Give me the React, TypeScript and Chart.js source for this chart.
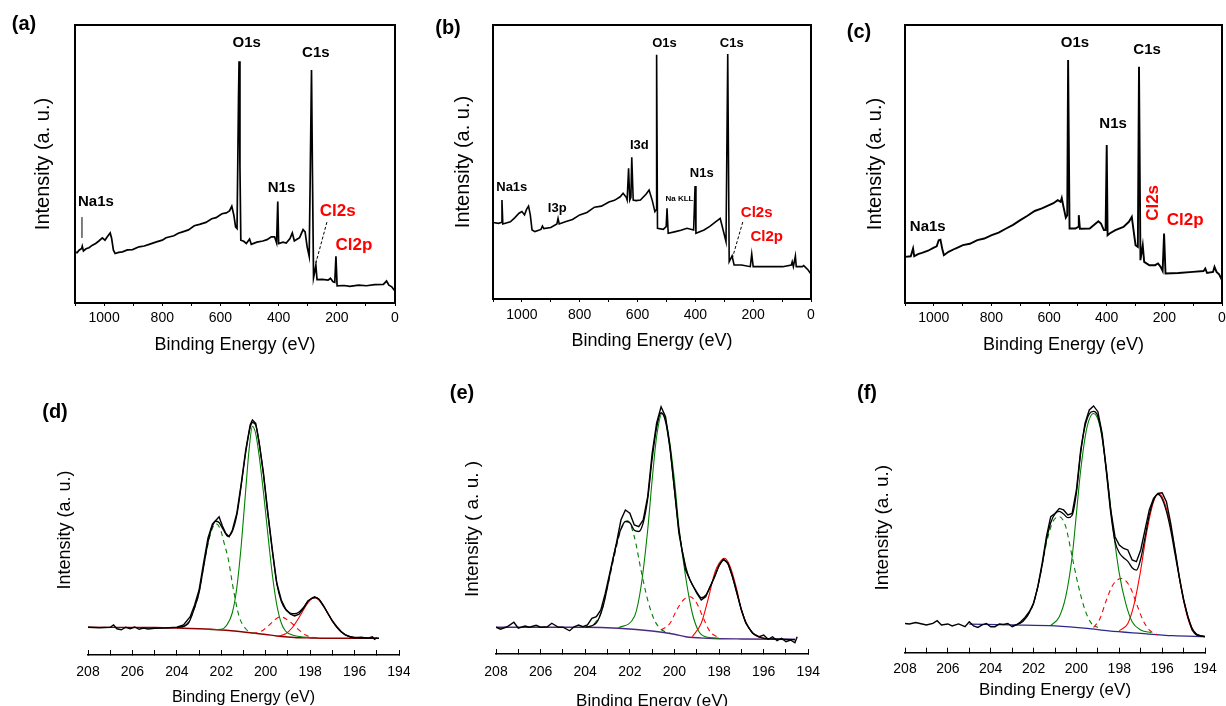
import React, { useEffect, useRef } from "react";
import { Chart, registerables } from "chart.js";
Chart.register(...registerables);

type P = [number, number][];
const FONT = '"Liberation Sans", Arial, Helvetica, sans-serif';

// ---------------- survey spectra: [binding energy (eV), intensity (a.u.)]
const surveyA: P = [
  [1100, 18.4], [1093, 18.1], [1086, 19.0], [1077, 19.6], [1075, 20.4], [1071, 18.7], [1062, 19.5], [1052, 19.9],
  [1040, 20.8], [1029, 21.4], [1018, 22.3], [1006, 23.4], [997, 22.6], [989, 23.8], [979, 25.2], [974, 23.2],
  [968, 19.0], [962, 17.8], [950, 18.2], [937, 18.4], [920, 19.1], [902, 19.2], [880, 20.2], [862, 20.5],
  [845, 21.1], [820, 22.0], [800, 22.6], [787, 23.5], [760, 24.2], [745, 25.1], [730, 25.6], [710, 26.3],
  [690, 27.8], [672, 28.3], [650, 29.0], [630, 30.3], [615, 30.7], [595, 32.1], [580, 32.4], [569, 33.1],
  [561, 34.8], [554, 31.6], [548, 27.4], [543, 26.8], [538, 73], [536, 87], [533, 49], [530, 22.6],
  [520, 22.2], [511, 21.4], [500, 23], [494, 21.1], [475, 21.9], [454, 22.3], [440, 22.8], [425, 23.8],
  [414, 23.8], [407, 21.6], [403, 36.5], [400, 21.4], [385, 21.9], [374, 21.6], [361, 23.2], [353, 25.2],
  [346, 22.3], [337, 22.9], [328, 23.5], [316, 26.4], [309, 25.6], [302, 20.2], [295, 16.8], [291, 49],
  [287, 83.8], [284, 49], [280, 9.1], [276, 11.2], [272, 13.6], [268, 8.4], [250, 8.5], [230, 8.2],
  [222, 8.9], [213, 7.6], [207, 7.4], [203, 16.8], [199, 6.2], [175, 6.3], [155, 6.0], [125, 6.4],
  [98, 6.2], [70, 6.6], [40, 6.7], [29, 7.9], [21, 6.4], [11, 5.8], [0, 4.3],
];
const surveyB: P = [
  [1100, 27.9], [1081, 27.6], [1072, 27.9], [1069, 36.1], [1066, 27.4], [1040, 28.2], [1025, 29.6], [1010, 31.3],
  [1000, 31.9], [991, 30.7], [984, 32.7], [977, 33.9], [971, 30.7], [965, 25.2], [955, 24.6],
  [934, 25.4], [929, 26.6], [924, 25.7], [900, 26.1], [879, 27.4], [875, 29.4], [871, 27.4], [850, 28.2],
  [825, 29.0], [800, 30.7], [775, 31.6], [749, 33.5], [725, 33.9], [699, 35.4], [680, 36.0], [660, 37.3],
  [650, 38.6], [639, 37.1], [636, 36.1],
  [631, 47.7], [627, 36.1], [623, 37.1], [620, 51.7], [615, 36.1], [605, 35.9], [590, 36.1],
  [570, 38.3], [560, 39.8], [549, 35.9], [540, 31.9], [536, 32.5], [534, 89.1], [531, 25.8],
  [511, 25.4], [501, 26.4], [498, 33.1], [494, 24], [469, 24.6], [450, 25.1], [429, 25.8], [406, 25.2],
  [401, 41.2], [398, 24], [370, 25.2], [350, 26.5], [329, 28.2], [314, 29.4], [304, 25.2], [294, 20.9],
  [288, 89.4], [283, 13.6], [273, 15.7], [266, 12.4], [240, 12.4], [210, 11.8], [205, 16.4],
  [200, 11.8], [150, 11.8], [98, 11.8], [68, 12.4], [65, 13.6], [61, 11.8], [54, 15.7],
  [51, 11.8], [30, 11.8], [25, 12.2], [10, 10.6], [0, 9.1],
];
const surveyC: P = [
  [1100, 16.6], [1080, 16.8], [1072, 19.6], [1068, 16.8], [1055, 17.6], [1041, 18], [1020, 18.8], [1000, 19.9],
  [990, 20.4], [983, 22.6], [977, 22.8], [971, 19.6], [965, 17.2], [949, 18.4], [925, 19.6], [899, 20.8],
  [875, 21.3], [849, 22.6], [825, 23.2], [799, 24.4], [775, 25.3], [749, 26.8], [725, 28.1], [700, 29.8],
  [675, 31.4], [650, 33.1], [625, 34.0], [600, 35.2], [585, 35.9], [570, 37], [560, 36.4],
  [556, 37.8], [550, 34.6], [542, 30.7], [537, 31.6], [534, 87.4], [529, 26.8], [509, 26.8],
  [499, 27.4], [497, 31.6], [493, 26.7], [459, 26.8], [429, 29.4], [420, 28.6], [410, 26.2],
  [404, 26.2], [400, 56.8], [397, 24.4], [390, 25], [370, 26.2], [342, 27.4], [323, 29.2],
  [313, 31], [307, 26.2], [300, 20.8], [292, 20.2], [288, 85], [283, 15.4], [275, 20.8],
  [270, 14.8], [252, 13.6], [232, 13.6], [222, 14.2], [213, 13], [206, 11.5], [201, 25],
  [196, 10.6], [151, 10.8], [101, 11.2], [64, 11.5], [58, 12.4], [52, 10.8], [31, 11.2],
  [26, 13], [19, 11.2], [10, 10.3], [0, 8.2],
];

// ---------------- Cl 2p high resolution: raw, envelope, background and fitted components
const rawD: P = [
  [208, 11.1], [207.5, 10.9], [207, 11.1], [206.85, 12], [206.7, 10.5], [206.5, 10.1], [206.3, 11.1],
  [206.1, 10.5], [205.9, 11.2], [205.7, 10.3], [205.5, 10.8], [205.3, 10.4], [205, 10.7], [204.5, 10.8],
  [204, 11.1], [203.7, 12], [203.4, 15.3], [203.2, 20], [203, 26], [202.8, 36.7], [202.6, 46.7],
  [202.4, 52.4], [202.2, 54.3], [202.1, 55.3], [201.95, 51.6], [201.8, 48.7], [201.65, 47.3], [201.5, 50],
  [201.3, 56.7], [201.1, 68.7], [200.9, 82], [200.7, 92], [200.6, 94], [200.45, 92.7], [200.3, 85.3],
  [200.1, 72.7], [199.9, 56.7], [199.7, 42], [199.5, 28.7], [199.3, 22], [199.1, 18.3], [198.9, 16.4],
  [198.7, 15.6], [198.5, 16.3], [198.3, 18.7], [198.1, 21.6], [197.9, 22.9], [197.8, 23.3], [197.6, 22.3],
  [197.4, 19.6], [197.2, 16.7], [197, 13.7], [196.8, 11.3], [196.6, 9.3], [196.4, 8], [196.2, 7.3],
  [196, 6.9], [195.7, 7.1], [195.4, 6.7], [195.2, 7.3], [195.1, 6.3], [195, 6.8], [194.9, 6.7],
];
const envD: P = [
  [204, 10.9], [203.5, 12.5], [203.2, 19], [203, 25], [202.8, 35], [202.6, 45], [202.4, 51.5],
  [202.25, 53.5], [202.1, 53], [201.9, 50], [201.7, 47.5], [201.5, 49.5], [201.3, 56], [201.1, 68],
  [200.9, 81], [200.7, 91], [200.6, 93], [200.45, 92], [200.3, 85], [200.1, 72], [199.9, 56],
  [199.7, 41.5], [199.5, 28.5], [199.3, 21.5], [199.1, 18.2], [198.9, 16.8], [198.7, 16.5], [198.5, 17.2],
  [198.3, 19], [198.1, 21.5], [197.9, 22.7], [197.75, 23], [197.6, 22.2], [197.4, 19.8], [197.2, 16.6],
  [197, 13.6], [196.8, 11.2], [196.6, 9.3], [196.4, 8], [196.2, 7.3], [196, 7], [195.5, 6.8], [195, 6.7],
];
const bgD: P = [
  [208, 11.1], [205, 11.0], [204, 10.8], [203, 10.5], [202, 10.0], [201, 9.2], [200, 8.2],
  [199.5, 7.6], [199, 7.2], [198.5, 6.9], [198, 6.8], [197, 6.7], [195, 6.7],
];
const g1D: P = [
  [202.5, 10.1], [202, 10.3], [201.75, 12], [201.5, 17], [201.3, 27], [201.1, 44], [200.9, 66],
  [200.75, 82], [200.6, 91.5], [200.45, 88.5], [200.3, 80], [200.1, 65], [199.9, 48], [199.7, 32],
  [199.5, 20], [199.3, 12.8], [199.1, 9.5], [198.8, 8], [198.3, 7.2], [197.8, 6.9],
];
const g2D: P = [
  [204, 11], [203.6, 12], [203.3, 16.5], [203, 25], [202.7, 40], [202.45, 49.5], [202.25, 52.5],
  [202.05, 50.5], [201.85, 44], [201.7, 39], [201.45, 26], [201.2, 15.5], [200.9, 10.5], [200.6, 8.8],
  [200.2, 8.5],
];
const r1D: P = [
  [199.5, 7.4], [199.1, 8.5], [198.8, 11], [198.5, 15], [198.2, 19.5], [198, 22], [197.8, 22.9],
  [197.6, 22], [197.4, 19.5], [197.2, 16.5], [197, 13.5], [196.8, 11], [196.6, 9.2], [196.4, 7.9],
  [196.1, 7.1], [195.8, 6.8],
];
const r2D: P = [
  [200.6, 8.7], [200.2, 9.5], [199.9, 11.5], [199.6, 14], [199.35, 15.3], [199.1, 14.5], [198.8, 12.5],
  [198.5, 10], [198.2, 8], [197.9, 7.1], [197.5, 6.8],
];

const rawE: P = [
  [208, 10.7], [207.8, 9.9], [207.5, 10.9], [207.2, 12.7], [207, 10.3], [206.7, 11.2], [206.5, 10.7],
  [206.2, 11.5], [206, 10.7], [205.7, 10.9], [205.5, 12.3], [205.2, 10.7], [205, 10.7], [204.7, 9.3],
  [204.5, 10.9], [204.3, 11.6], [204.1, 10.9], [203.9, 11.6], [203.7, 14.3], [203.5, 14.9], [203.3, 17.6],
  [203.1, 24.3], [202.9, 32.3], [202.6, 44.3], [202.4, 53.6], [202.2, 57.6], [202, 56.3], [201.8, 51.6],
  [201.6, 50.9], [201.4, 53.6], [201.2, 62.9], [201, 80.3], [200.8, 92.3], [200.6, 98.9], [200.4, 94.9],
  [200.2, 82.9], [200, 65.6], [199.8, 48.3], [199.5, 33.6], [199.3, 29.6], [199, 24.3], [198.8, 21.6],
  [198.6, 22.9], [198.4, 26.9], [198.2, 30.9], [198, 35.6], [197.8, 38], [197.6, 36.3], [197.4, 30.9],
  [197.2, 24.3], [197, 17.6], [196.8, 12.3], [196.5, 8.3], [196.2, 6.9], [196, 7.6], [195.8, 5.9],
  [195.6, 6.9], [195.4, 5.3], [195.2, 6.3], [195, 4.9], [194.8, 5.6], [194.6, 4.5], [194.5, 6.9],
];
const envE: P = [
  [204, 10.7], [203.5, 12.5], [203.2, 19], [203, 27], [202.8, 36], [202.6, 44], [202.4, 50],
  [202.2, 53], [202, 52.5], [201.8, 49.5], [201.6, 49], [201.4, 52.5], [201.2, 62], [201, 78],
  [200.8, 90.5], [200.6, 96.5], [200.4, 93], [200.2, 82], [200, 66], [199.8, 49.5], [199.5, 35],
  [199.3, 29.5], [199, 24.8], [198.8, 22.5], [198.6, 23.5], [198.4, 27], [198.2, 31], [198, 35.2],
  [197.8, 37.6], [197.6, 36], [197.4, 31], [197.2, 24.5], [197, 17.8], [196.8, 12.6], [196.5, 8.5],
  [196.2, 6.8], [196, 6.3], [195.5, 6], [195, 5.8], [194.6, 5.7],
];
const bgE: P = [
  [208, 10.7], [204, 10.7], [202.5, 10.3], [201, 9.2], [200, 7.9], [199.5, 6.9], [198.5, 6.3],
  [197, 6], [195, 5.9], [194.6, 5.9],
];
const g1E: P = [
  [202.5, 10.5], [201.8, 14.9], [201.5, 26.9], [201.2, 49.6], [201, 69.6], [200.8, 86.9], [200.55, 96.3],
  [200.3, 89.6], [200, 69.6], [199.8, 50.9], [199.5, 30.9], [199.2, 16.3], [198.9, 8.9], [198.5, 6.7],
  [198, 6.3],
];
const g2E: P = [
  [203.6, 12], [203.3, 16.3], [203, 26.9], [202.7, 38.9], [202.4, 49.6], [202.1, 53.3], [201.8, 46.9],
  [201.5, 33.6], [201.2, 21.6], [200.9, 13.6], [200.6, 9.9], [200.2, 8.3],
];
const r1E: P = [
  [199.2, 6.9], [198.8, 12.3], [198.5, 21.6], [198.2, 32.3], [198, 36.3], [197.75, 38.3], [197.5, 34.9],
  [197.2, 25.6], [197, 17.6], [196.7, 10.9], [196.4, 7.6], [196, 6.3],
];
const r2E: P = [
  [200.6, 9.6], [200.2, 12.3], [199.9, 17.6], [199.6, 21.6], [199.3, 22.9], [199, 20.3], [198.7, 14.3],
  [198.4, 8.9], [198, 6.5],
];

const rawF: P = [
  [208, 11.7], [207.8, 11.5], [207.5, 12.1], [207.2, 11.5], [207, 11.1], [206.7, 11.7], [206.5, 12.8],
  [206.3, 11.1], [206, 11.5], [205.8, 10.7], [205.5, 11.5], [205.2, 10.4], [205, 12.4], [204.8, 10.7],
  [204.6, 10.1], [204.4, 11.1], [204.2, 11.7], [204, 10.4], [203.8, 10.4], [203.6, 11.5], [203.4, 11.3],
  [203.2, 11.7], [203, 10.4], [202.8, 11.1], [202.6, 12.4], [202.4, 14.1], [202.2, 16.4], [202, 19.7],
  [201.8, 26.4], [201.6, 35.7], [201.4, 46.4], [201.2, 54.4], [201, 55.7], [200.8, 57.7], [200.6, 57.1],
  [200.4, 55.1], [200.2, 55.7], [200, 65.1], [199.8, 81.1], [199.6, 91.7], [199.4, 97.1], [199.2, 98.7],
  [199, 96.4], [198.8, 87.7], [198.6, 73.1], [198.4, 57.1], [198.2, 46.4], [198, 43.1], [197.8, 41.7],
  [197.6, 41.1], [197.4, 37.1], [197.2, 36.4], [197, 41.1], [196.8, 49.1], [196.6, 57.1], [196.4, 61.7],
  [196.2, 63.7], [196, 64], [195.8, 60.4], [195.6, 51.7], [195.4, 41.1], [195.2, 30.4], [195, 21.1],
  [194.8, 14.4], [194.6, 9.1], [194.4, 7.1], [194.2, 6.7], [194, 6.4],
];
const envF: P = [
  [203, 10.6], [202.5, 12.5], [202.2, 16], [202, 20], [201.8, 26.5], [201.6, 35], [201.4, 45],
  [201.2, 52], [201, 55.5], [200.8, 56.5], [200.6, 55.5], [200.4, 54], [200.2, 55], [200, 64],
  [199.8, 80], [199.6, 90.5], [199.4, 95.5], [199.2, 96.5], [199, 94.5], [198.8, 86.5], [198.6, 72],
  [198.4, 56], [198.2, 44.5], [198, 40], [197.8, 38], [197.6, 36.5], [197.4, 34], [197.2, 33],
  [197, 37.5], [196.8, 46], [196.6, 55], [196.4, 61], [196.2, 63.3], [196, 61.5], [195.8, 56.5],
  [195.6, 49], [195.4, 39.5], [195.2, 30], [195, 21.5], [194.8, 14.5], [194.6, 9.8], [194.4, 7.5],
  [194.2, 6.8], [194, 6.5],
];
const bgF: P = [
  [205, 11.4], [203, 11.1], [201, 10.7], [199.5, 9.7], [198.5, 8.7], [197, 7.7], [195.5, 6.8], [194, 6.4],
];
const g1F: P = [
  [201.2, 10.9], [200.8, 14.4], [200.5, 22.4], [200.2, 38.4], [200, 55.7], [199.8, 73.1], [199.5, 90.4],
  [199.2, 95.7], [198.9, 90.4], [198.6, 73.1], [198.3, 50.4], [198, 31.7], [197.7, 19.7], [197.4, 12.4],
  [197, 9.1], [196.5, 8],
];
const g2F: P = [
  [202.3, 14.4], [202, 19.7], [201.7, 30.4], [201.4, 43.7], [201.1, 52.4], [200.8, 54.4], [200.5, 50.4],
  [200.2, 38.4], [199.9, 26.4], [199.6, 17.1], [199.3, 11.7], [199, 10.1],
];
const r1F: P = [
  [198, 8.8], [197.6, 11.7], [197.3, 19.7], [197, 33.1], [196.7, 49.1], [196.4, 60.4], [196.2, 63.5],
  [196, 62.4], [195.7, 54.4], [195.4, 41.1], [195.1, 25.1], [194.8, 13.7], [194.5, 7.7], [194.2, 6.7],
];
const r2F: P = [
  [199.2, 10.1], [198.9, 13.7], [198.6, 21.1], [198.3, 27.1], [197.9, 29.7], [197.5, 26.4], [197.2, 19.7],
  [196.9, 13.1], [196.6, 9.1], [196.2, 7.1],
];

// ---------------- tick labels
const surveyTickLabels = [0, 200, 400, 600, 800, 1000];
const hrTickLabels = [194, 196, 198, 200, 202, 204, 206, 208];

// ---------------- peak annotations (anchored in data coordinates)
type Note = { t: string; x: number; y: number; red?: boolean; rot?: boolean; small?: boolean };
type Leader = { x1: number; y1: number; x2: number; y2: number; dash?: boolean };
const notesA: Note[] = [
  { t: "O1s", x: 510, y: 93.5 }, { t: "C1s", x: 272, y: 90 }, { t: "N1s", x: 390, y: 41.4 },
  { t: "Na1s", x: 1028, y: 36.3 }, { t: "Cl2s", x: 197, y: 33.1, red: true }, { t: "Cl2p", x: 141, y: 20.9, red: true },
];
const leadersA: Leader[] = [
  { x1: 1076, y1: 30.9, x2: 1076, y2: 23.4 }, { x1: 234, y1: 29.1, x2: 272, y2: 14.4, dash: true },
];
const notesB: Note[] = [
  { t: "O1s", x: 507, y: 93.4 }, { t: "C1s", x: 274, y: 93.4 }, { t: "I3d", x: 594, y: 56.2 },
  { t: "N1s", x: 378, y: 46 }, { t: "Na1s", x: 1035, y: 40.9 }, { t: "I3p", x: 878, y: 33.2 },
  { t: "Na KLL", x: 455, y: 36.5, small: true }, { t: "Cl2s", x: 188, y: 31.4, red: true },
  { t: "Cl2p", x: 153, y: 22.6, red: true },
];
const leadersB: Leader[] = [{ x1: 236, y1: 28.1, x2: 271, y2: 15.3, dash: true }];
const notesC: Note[] = [
  { t: "O1s", x: 510, y: 93.5 }, { t: "C1s", x: 260, y: 91 }, { t: "N1s", x: 378, y: 64.4 },
  { t: "Na1s", x: 1021, y: 27.3 }, { t: "Cl2s", x: 240, y: 36, red: true, rot: true },
  { t: "Cl2p", x: 128, y: 29.9, red: true },
];

// ---------------- drawing helpers
const decor = {
  id: "decor",
  afterDatasetsDraw(chart: any, _args: any, opts: any) {
    const { ctx, chartArea: a, scales } = chart;
    const xs = scales.x;
    const ys = scales.y;
    ctx.save();
    if (opts.frame) {
      ctx.lineWidth = 2;
      ctx.strokeStyle = "#000";
      ctx.strokeRect(a.left, a.top, a.right - a.left, a.bottom - a.top);
    }
    (opts.leaders || []).forEach((l: Leader) => {
      ctx.beginPath();
      ctx.setLineDash(l.dash ? [3, 2] : []);
      ctx.lineWidth = 1;
      ctx.strokeStyle = "#000";
      ctx.moveTo(xs.getPixelForValue(l.x1), ys.getPixelForValue(l.y1));
      ctx.lineTo(xs.getPixelForValue(l.x2), ys.getPixelForValue(l.y2));
      ctx.stroke();
    });
    ctx.setLineDash([]);
    ctx.textAlign = "center";
    ctx.textBaseline = "middle";
    (opts.notes || []).forEach((n: Note) => {
      const size = n.small ? opts.smallSize : n.red ? opts.redSize : opts.noteSize;
      ctx.font = `bold ${size}px ${FONT}`;
      ctx.fillStyle = n.red ? "#ff0000" : "#000";
      const px = xs.getPixelForValue(n.x);
      const py = ys.getPixelForValue(n.y);
      if (n.rot) {
        ctx.save();
        ctx.translate(px, py);
        ctx.rotate(-Math.PI / 2);
        ctx.fillText(n.t, 0, 0);
        ctx.restore();
      } else ctx.fillText(n.t, px, py);
    });
    if (opts.panel) {
      ctx.font = `bold 20px ${FONT}`;
      ctx.fillStyle = "#000";
      ctx.fillText(opts.panel.text, opts.panel.x, opts.panel.y);
    }
    ctx.restore();
  },
};

const toXY = (p: P) => p.map(([x, y]) => ({ x, y }));
const line = (p: P, color: string, width: number, opts: any = {}) => ({
  data: toXY(p),
  borderColor: color,
  borderWidth: width,
  pointRadius: 0,
  fill: false,
  tension: 0,
  ...opts,
});
const smooth = { cubicInterpolationMode: "monotone" };
const dash = { borderDash: [5, 4] };

type Spec = {
  left: number; top: number; width: number; height: number;
  area: { l: number; t: number; r: number; b: number };
  survey: boolean;
  tickLen: number; tickPad: number;
  xTitle: string; xSize: number; xPad: number;
  yTitle: string; ySize: number; yPad: number;
  datasets: any[];
  panel: { text: string; x: number; y: number };
  notes?: Note[]; leaders?: Leader[];
  noteSize?: number; redSize?: number; smallSize?: number;
};

function buildConfig(s: Spec): any {
  const labels = s.survey ? surveyTickLabels : hrTickLabels;
  return {
    type: "line",
    data: { datasets: s.datasets },
    plugins: [decor],
    options: {
      animation: false,
      responsive: true,
      maintainAspectRatio: false,
      layout: { padding: { left: 0, top: s.area.t, right: s.width - s.area.r, bottom: 0 } },
      plugins: {
        legend: { display: false },
        tooltip: { enabled: false },
        decor: {
          frame: s.survey, panel: s.panel, notes: s.notes, leaders: s.leaders,
          noteSize: s.noteSize, redSize: s.redSize, smallSize: s.smallSize,
        },
      },
      scales: {
        x: {
          type: "linear",
          reverse: true,
          min: s.survey ? 0 : 194,
          max: s.survey ? 1100 : 208,
          afterFit: (sc: any) => {
            sc.height = s.height - s.area.b;
            sc.paddingLeft = 0;
            sc.paddingRight = 0;
          },
          border: { display: !s.survey, color: "#000", width: 1.5 },
          grid: { display: true, drawOnChartArea: false, drawTicks: true, tickLength: s.tickLen, tickColor: "#000", tickWidth: 1 },
          ticks: {
            stepSize: s.survey ? 100 : 1,
            autoSkip: false,
            maxRotation: 0,
            minRotation: 0,
            includeBounds: false,
            padding: s.tickPad,
            color: "#000",
            font: { family: FONT, size: 14 },
            callback: (v: any) => (labels.includes(Number(v)) ? String(v) : ""),
          },
          title: { display: true, text: s.xTitle, color: "#000", font: { family: FONT, size: s.xSize }, padding: { top: 0, bottom: s.xPad } },
        },
        y: {
          type: "linear",
          min: 0,
          max: 100,
          afterFit: (sc: any) => {
            sc.width = s.area.l;
            sc.paddingTop = 0;
            sc.paddingBottom = 0;
          },
          border: { display: false },
          grid: { display: false },
          ticks: { display: false },
          title: { display: true, text: s.yTitle, color: "#000", font: { family: FONT, size: s.ySize }, padding: { top: s.yPad, bottom: 0 } },
        },
      },
    },
  };
}

function Panel({ spec }: { spec: Spec }) {
  const ref = useRef<HTMLCanvasElement | null>(null);
  useEffect(() => {
    if (!ref.current) return;
    const chart = new Chart(ref.current, buildConfig(spec));
    return () => chart.destroy();
  }, []);
  return (
    <div style={{ position: "absolute", left: spec.left, top: spec.top, width: spec.width, height: spec.height }}>
      <canvas ref={ref} />
    </div>
  );
}

const BE = "Binding Energy (eV)";
const specs: Spec[] = [
  {
    left: 0, top: 0, width: 410, height: 360, area: { l: 75, t: 25, r: 395, b: 303 }, survey: true,
    tickLen: 3, tickPad: 3.6, xTitle: BE, xSize: 18, xPad: 4.2, yTitle: "Intensity (a. u.)", ySize: 20, yPad: 31,
    datasets: [line(surveyA, "#000", 1.7)], panel: { text: "(a)", x: 24, y: 24 },
    notes: notesA, leaders: leadersA, noteSize: 15, redSize: 17,
  },
  {
    left: 410, top: 0, width: 410, height: 360, area: { l: 83, t: 25, r: 401, b: 299 }, survey: true,
    tickLen: 3, tickPad: 4.6, xTitle: BE, xSize: 18, xPad: 8.2, yTitle: "Intensity (a. u.)", ySize: 20, yPad: 41,
    datasets: [line(surveyB, "#000", 1.6)], panel: { text: "(b)", x: 38, y: 28 },
    notes: notesB, leaders: leadersB, noteSize: 13, redSize: 15, smallSize: 8,
  },
  {
    left: 820, top: 0, width: 406, height: 360, area: { l: 85, t: 25, r: 402, b: 303 }, survey: true,
    tickLen: 3, tickPad: 3.6, xTitle: BE, xSize: 18, xPad: 4.2, yTitle: "Intensity (a. u.)", ySize: 20, yPad: 43,
    datasets: [line(surveyC, "#000", 1.9)], panel: { text: "(c)", x: 39, y: 32 },
    notes: notesC, noteSize: 15, redSize: 17,
  },
  {
    left: 0, top: 360, width: 410, height: 360, area: { l: 88, t: 45, r: 399, b: 295 }, survey: false,
    tickLen: -5, tickPad: 13.6, xTitle: BE, xSize: 16, xPad: 12.4, yTitle: "Intensity (a. u.)", ySize: 18, yPad: 54,
    datasets: [
      line(rawD, "#000", 1.4),
      line(envD, "#000", 1.3, smooth),
      line(g1D, "#008000", 1.1, smooth),
      line(g2D, "#008000", 1.1, { ...smooth, ...dash }),
      line(r1D, "#ff0000", 1.1, smooth),
      line(r2D, "#ff0000", 1.1, { ...smooth, ...dash }),
      line(bgD, "#8b0000", 1.3, smooth),
    ],
    panel: { text: "(d)", x: 55, y: 52 },
  },
  {
    left: 410, top: 360, width: 410, height: 360, area: { l: 86, t: 44, r: 398.3, b: 294 }, survey: false,
    tickLen: -5, tickPad: 14.6, xTitle: BE, xSize: 17, xPad: 8.8, yTitle: "Intensity ( a. u. )", ySize: 19, yPad: 51.6,
    datasets: [
      line(rawE, "#000", 1.4),
      line(envE, "#000", 1.3, smooth),
      line(g1E, "#008000", 1.1, smooth),
      line(g2E, "#008000", 1.1, { ...smooth, ...dash }),
      line(r1E, "#ff0000", 1.1, smooth),
      line(r2E, "#ff0000", 1.1, { ...smooth, ...dash }),
      line(bgE, "#4a2a80", 1.3, smooth),
    ],
    panel: { text: "(e)", x: 52, y: 33 },
  },
  {
    left: 820, top: 360, width: 406, height: 360, area: { l: 85, t: 42.7, r: 385, b: 292.7 }, survey: false,
    tickLen: -5, tickPad: 12.9, xTitle: BE, xSize: 17, xPad: 19.8, yTitle: "Intensity (a. u.)", ySize: 19, yPad: 51.6,
    datasets: [
      line(rawF, "#000", 1.4),
      line(envF, "#000", 1.3, smooth),
      line(g1F, "#008000", 1.1, smooth),
      line(g2F, "#008000", 1.1, { ...smooth, ...dash }),
      line(r1F, "#ff0000", 1.1, smooth),
      line(r2F, "#ff0000", 1.1, { ...smooth, ...dash }),
      line(bgF, "#2a2a8a", 1.3, smooth),
    ],
    panel: { text: "(f)", x: 47, y: 33 },
  },
];

export default function App() {
  return (
    <div style={{ position: "absolute", left: 0, top: 0, width: 1226, height: 706, overflow: "hidden", background: "#fff" }}>
      {specs.map((s, i) => (
        <Panel key={i} spec={s} />
      ))}
    </div>
  );
}
